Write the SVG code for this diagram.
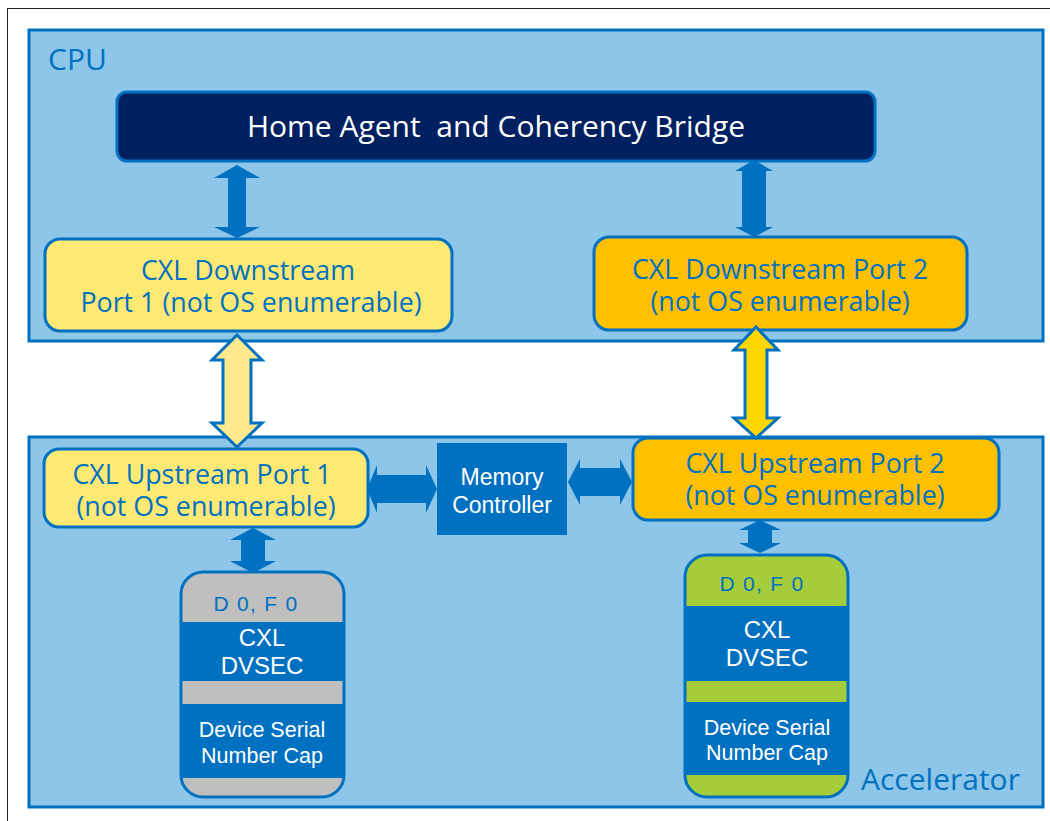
<svg xmlns="http://www.w3.org/2000/svg" width="1050" height="821" viewBox="0 0 1050 821">
<style>
.frame{fill:#8DC6E8;stroke:#0070C0;stroke-width:3}
.lbl{font-family:"Open Sans","Noto Sans",sans-serif;fill:#0070C0}
.port{stroke:#0070C0;stroke-width:3}
.pt{font-family:"Open Sans","Noto Sans",sans-serif;font-size:26.8px;fill:#0070C0;text-anchor:middle}
.ar{fill:#0070C0}
.hy{stroke:#0070C0;stroke-width:3;stroke-linejoin:miter}
.wt{font-family:"Liberation Sans",Arial,sans-serif;fill:#fff;text-anchor:middle}
.df{font-family:"Liberation Sans",Arial,sans-serif;fill:#0070C0;text-anchor:middle;font-size:21px;letter-spacing:1.3px}
</style>
<defs>
<clipPath id="c1"><rect x="181" y="572" width="163" height="225" rx="22"/></clipPath>
<clipPath id="c2"><rect x="685" y="555" width="163" height="242" rx="22"/></clipPath>
</defs>
<rect x="7.5" y="8.5" width="1070" height="840" fill="#fff" stroke="#222" stroke-width="1"/>
<g id="cpu">
<rect class="frame" x="29" y="30" width="1014" height="311"/>
<text class="lbl" x="48" y="70" font-size="30">CPU</text>
</g>
<g id="accelerator">
<rect class="frame" x="29" y="437" width="1014" height="370"/>
<text class="lbl" x="861" y="790" font-size="30">Accelerator</text>
</g>
<g id="home-agent">
<rect x="117" y="92" width="758" height="69" rx="10" fill="#002060" stroke="#0070C0" stroke-width="3"/>
<text x="496" y="137" font-family="'Open Sans','Noto Sans',sans-serif" font-size="30" fill="#fff" text-anchor="middle" xml:space="preserve">Home Agent  and Coherency Bridge</text>
</g>
<g id="dp1">
<rect class="port" x="45" y="239" width="407" height="92" rx="15" fill="#FFE975"/>
<text class="pt" x="248" y="280">CXL Downstream</text>
<text class="pt" x="251" y="312">Port 1 (not OS enumerable)</text>
</g>
<g id="dp2">
<rect class="port" x="594" y="237" width="373" height="93" rx="15" fill="#FFC000"/>
<text class="pt" x="780" y="279">CXL Downstream Port 2</text>
<text class="pt" x="780" y="311">(not OS enumerable)</text>
</g>
<g id="up1">
<rect class="port" x="44" y="449" width="324" height="78" rx="15" fill="#FFE975"/>
<text class="pt" x="202" y="484">CXL Upstream Port 1</text>
<text class="pt" x="206" y="516">(not OS enumerable)</text>
</g>
<g id="up2">
<rect class="port" x="633" y="438" width="366" height="82" rx="15" fill="#FFC000"/>
<text class="pt" x="815" y="473">CXL Upstream Port 2</text>
<text class="pt" x="815" y="505">(not OS enumerable)</text>
</g>
<g id="memory-controller">
<rect x="437" y="443" width="130" height="92" fill="#0070C0"/>
<text class="wt" x="502" y="485" font-size="23">Memory</text>
<text class="wt" x="502" y="513" font-size="23">Controller</text>
</g>
<g id="device1">
<rect x="181" y="572" width="163" height="225" rx="22" fill="#BFBFBF"/>
<g clip-path="url(#c1)" fill="#0070C0">
<rect x="181" y="622" width="163" height="59"/>
<rect x="181" y="704" width="163" height="74"/>
</g>
<rect x="181" y="572" width="163" height="225" rx="22" fill="none" stroke="#0070C0" stroke-width="3"/>
<text class="df" x="256" y="611">D 0, F 0</text>
<text class="wt" x="262" y="646" font-size="24">CXL</text>
<text class="wt" x="262" y="674" font-size="24">DVSEC</text>
<text class="wt" x="262" y="737" font-size="21.5">Device Serial</text>
<text class="wt" x="262" y="763" font-size="21.5">Number Cap</text>
</g>
<g id="device2">
<rect x="685" y="555" width="163" height="242" rx="22" fill="#A5CC3A"/>
<g clip-path="url(#c2)" fill="#0070C0">
<rect x="685" y="606" width="163" height="75"/>
<rect x="685" y="702" width="163" height="73"/>
</g>
<rect x="685" y="555" width="163" height="242" rx="22" fill="none" stroke="#0070C0" stroke-width="3"/>
<text class="df" x="762" y="591">D 0, F 0</text>
<text class="wt" x="767" y="638" font-size="24">CXL</text>
<text class="wt" x="767" y="666" font-size="24">DVSEC</text>
<text class="wt" x="767" y="735" font-size="21.5">Device Serial</text>
<text class="wt" x="767" y="760" font-size="21.5">Number Cap</text>
</g>
<g id="connectors">
<polygon class="ar" points="237,165 260,178 246,178 246,227 260,227 237,238 214,227 228,227 228,178 214,178"/>
<polygon class="ar" points="754,160 773,171 766,171 766,227 773,227 754,237 735,227 742,227 742,171 735,171"/>
<polygon class="hy" fill="#FFE98F" points="237,335 262,360 251,360 251,423 262,423 237,447 212,423 223,423 223,360 212,360"/>
<polygon class="hy" fill="#FFD700" points="756,327 778,350 767,350 767,418 778,418 756,438 734,418 745,418 745,350 734,350"/>
<polygon class="ar" points="367,489 377,465 377,475 426,475 426,465 437,489 426,513 426,503 377,503 377,513"/>
<polygon class="ar" points="568,482 580,459 580,468 620,468 620,459 632,482 620,505 620,496 580,496 580,505"/>
<polygon class="ar" points="253,528 276,540 265,540 265,561 276,561 253,573 230,561 241,561 241,540 230,540"/>
<polygon class="ar" points="760,520 781,530 772,530 772,543 781,543 760,553 739,543 748,543 748,530 739,530"/>
</g>
</svg>
